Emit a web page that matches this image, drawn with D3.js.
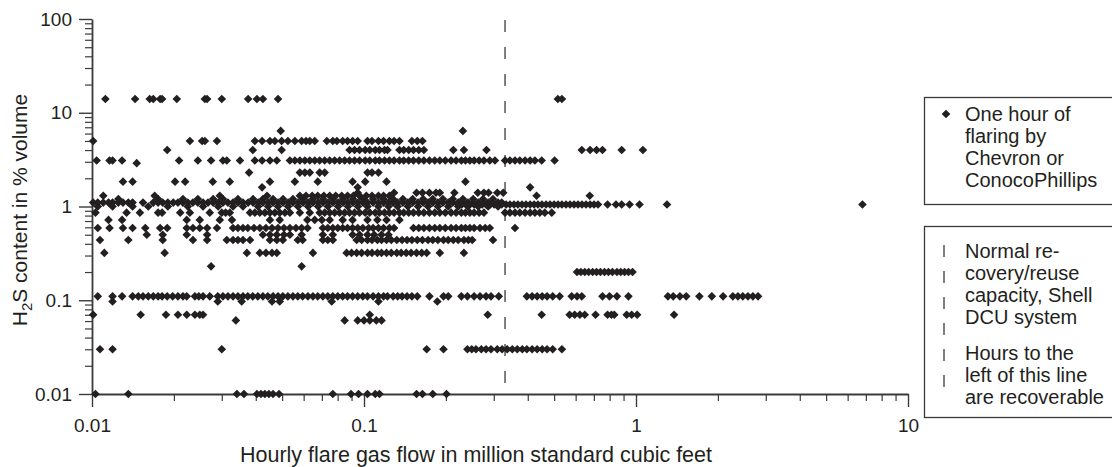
<!DOCTYPE html>
<html>
<head>
<meta charset="utf-8">
<script src="https://cdnjs.cloudflare.com/ajax/libs/d3/7.8.5/d3.min.js"></script>
<style>
body { margin: 0; background: #fff; }
svg { display: block; font-family: "Liberation Sans", Arial, Helvetica, sans-serif; }
.axis path, .axis line { stroke: #3a3a3a; }
.axis text { fill: #231f20; font-size: 19px; }
.legend text { fill: #231f20; font-size: 20px; }
</style>
</head>
<body>
<svg width="1112" height="467"></svg>
<script>
// hourly flare gas flow (million scf), grouped by H2S level (% volume)
const flow14 = [0.0112, 0.0144, 0.0163, 0.0168, 0.0178, 0.0181, 0.0205, 0.0260, 0.0265, 0.0300, 0.0375, 0.0404, 0.0425, 0.0483, 0.516, 0.534]
const flow6_4 = [0.0494, 0.231]
const flow5 = [0.0101, 0.0229, 0.0254, 0.0260, 0.0288, 0.0397, 0.0422, 0.0451, 0.0470, 0.0498, 0.0525, 0.0557, 0.0590, 0.0612, 0.0632, 0.0659, 0.0730, 0.0768, 0.0795, 0.0835, 0.0870, 0.0908, 0.0948, 0.103, 0.107, 0.113, 0.118, 0.124, 0.129, 0.135, 0.150, 0.157, 0.164]
const flow4 = [0.0189, 0.0390, 0.0498, 0.0885, 0.0923, 0.0963, 0.101, 0.105, 0.110, 0.114, 0.119, 0.122, 0.135, 0.140, 0.146, 0.152, 0.159, 0.166, 0.213, 0.233, 0.282, 0.632, 0.678, 0.716, 0.753, 0.886, 1.06]
const flow3_1 = [0.0104, 0.0116, 0.0119, 0.0129, 0.0209, 0.0245, 0.0274, 0.0303, 0.0313, 0.0350, 0.0397, 0.0422, 0.0451, 0.0478,
  0.0534, 0.0557, 0.0581, 0.0606, 0.0632, 0.0659, 0.0687, 0.0717, 0.0748, 0.0780, 0.0814, 0.0849, 0.0885, 0.0923, 0.0963, 0.101, 0.105, 0.110, 0.114, 0.119, 0.124,
  0.129, 0.135, 0.140, 0.146, 0.152, 0.159, 0.166, 0.174, 0.182, 0.190, 0.199, 0.209, 0.218, 0.228, 0.236, 0.245, 0.254, 0.265, 0.276, 0.290, 0.303,
  0.330, 0.344, 0.359, 0.374, 0.391, 0.408, 0.425, 0.450, 0.502]
const flow2_9 = [0.0146]
const flow2_3 = [0.0378, 0.0581, 0.0606, 0.0632, 0.0687, 0.0717, 0.103, 0.107, 0.113]
const flow1_84 = [0.0130, 0.0141, 0.0202, 0.0220, 0.0278, 0.0321, 0.0451, 0.0557, 0.0676, 0.0908, 0.101, 0.121, 0.236]
const flow1_6 = [0.0422, 0.0948, 0.408]
const flow1_4 = [0.0948, 0.129, 0.156, 0.164, 0.174, 0.184, 0.190, 0.215, 0.262, 0.276, 0.287, 0.309, 0.325]
const flow1_3 = [0.0110, 0.0170, 0.0295, 0.0440, 0.0581, 0.0612, 0.0645, 0.0676, 0.0712, 0.0748, 0.0787, 0.0828, 0.0870, 0.0914, 0.0963, 0.102, 0.107, 0.113, 0.118, 0.124, 0.431, 0.676]
const flow1_2 = [0.0125, 0.0175, 0.0216, 0.0245, 0.0279, 0.0303, 0.0344, 0.0391, 0.0425, 0.0463, 0.0504, 0.0548, 0.0597, 0.0649, 0.0707, 0.0769, 0.0837, 0.0911, 0.0992, 0.108, 0.118, 0.128, 0.139, 0.151, 0.165, 0.179, 0.195, 0.212, 0.231, 0.252, 0.274, 0.298]
const flow1_1 = [0.0101, 0.0105, 0.0110, 0.0115, 0.0119, 0.0125, 0.0130, 0.0136, 0.0141, 0.0154, 0.0168, 0.0175, 0.0182, 0.0190, 0.0199, 0.0207, 0.0216, 0.0225,
  0.0235, 0.0245, 0.0256, 0.0267, 0.0279, 0.0291, 0.0303, 0.0316, 0.0330, 0.0344, 0.0359, 0.0375, 0.0391, 0.0408, 0.0425, 0.0444, 0.0463, 0.0483, 0.0504, 0.0526,
  0.0548, 0.0572, 0.0597, 0.0623, 0.0649, 0.0678, 0.0707, 0.0737, 0.0769, 0.0803, 0.0837, 0.0873, 0.0911, 0.0950, 0.0992, 0.103, 0.108, 0.113, 0.118, 0.123,
  0.128, 0.133, 0.139, 0.145, 0.151, 0.158, 0.165, 0.172, 0.179, 0.187, 0.195, 0.204, 0.212, 0.222, 0.231, 0.241, 0.252, 0.263, 0.274, 0.286, 0.298, 0.311, 0.321]
const flow1_05 = [0.222, 0.229, 0.237, 0.245, 0.254, 0.263, 0.272, 0.281, 0.291, 0.301, 0.311, 0.321, 0.333, 0.344, 0.356, 0.368, 0.381, 0.394, 0.408, 0.422, 0.436,
  0.451, 0.467, 0.483, 0.500, 0.517, 0.534, 0.553, 0.572, 0.592, 0.612, 0.633, 0.655, 0.678, 0.701, 0.725, 0.786, 0.844, 0.886, 0.947, 1.03, 1.30, 6.8]
const flow1_0 = [0.0105, 0.0119, 0.0141, 0.0161, 0.0190, 0.0225, 0.0256, 0.0291, 0.0330, 0.0359, 0.0408, 0.0444, 0.0483, 0.0526, 0.0572, 0.0623, 0.0678, 0.0737,
  0.0803, 0.0873, 0.0950, 0.103, 0.113, 0.123, 0.133, 0.145, 0.158, 0.172, 0.187, 0.204, 0.222, 0.241, 0.263, 0.286, 0.311]
const flow0_86 = [0.0103, 0.0134, 0.0150, 0.0175, 0.0181, 0.0211, 0.0229, 0.0271, 0.0300, 0.0310, 0.0321, 0.0381, 0.0397, 0.0414, 0.0432, 0.0451, 0.0470, 0.0490,
  0.0512, 0.0534, 0.0581, 0.0632, 0.0687, 0.0717, 0.0748, 0.0780, 0.0814, 0.0849, 0.0885, 0.0923, 0.0963, 0.101, 0.105, 0.110, 0.114, 0.119, 0.124, 0.129,
  0.135, 0.140, 0.146, 0.152, 0.159, 0.166, 0.174, 0.182, 0.190, 0.199, 0.209, 0.218, 0.228, 0.236, 0.245, 0.254, 0.265, 0.276,
  0.330, 0.344, 0.359, 0.374, 0.391, 0.408, 0.425, 0.443, 0.462, 0.490]
const flow0_72 = [0.0115, 0.0129, 0.0223, 0.0249, 0.0295, 0.0327, 0.0451, 0.0490, 0.0619, 0.0659, 0.0700, 0.0748, 0.0835, 0.0908, 0.103, 0.112, 0.121, 0.135]
const flow0_59 = [0.0105, 0.0116, 0.0130, 0.0141, 0.0157, 0.0178, 0.0189, 0.0223, 0.0235, 0.0249, 0.0265, 0.0288, 0.0330, 0.0344, 0.0359, 0.0374, 0.0394, 0.0414,
  0.0436, 0.0459, 0.0483, 0.0508, 0.0534, 0.0562, 0.0590, 0.0620, 0.0706, 0.0736, 0.0768, 0.0801, 0.0835, 0.0870, 0.0908, 0.0948, 0.0990, 0.104, 0.108, 0.113,
  0.118, 0.124, 0.129, 0.152, 0.159, 0.166, 0.174, 0.182, 0.190, 0.199, 0.209, 0.218, 0.228, 0.236, 0.245, 0.254, 0.267, 0.279, 0.290, 0.359]
const flow0_5 = [0.0159, 0.0182, 0.0223, 0.0265, 0.0425, 0.0451, 0.0478, 0.0508, 0.0534, 0.0590, 0.0706, 0.0768, 0.0908, 0.0963, 0.103, 0.109, 0.116, 0.123]
const flow0_44 = [0.0107, 0.0136, 0.0182, 0.0235, 0.0265, 0.0313, 0.0330, 0.0344, 0.0359, 0.0381, 0.0451, 0.0478, 0.0503, 0.0571, 0.0595, 0.0706, 0.0736, 0.0768,
  0.0940, 0.0980, 0.103, 0.107, 0.112, 0.116, 0.121, 0.126, 0.132, 0.138, 0.144, 0.150, 0.157, 0.164, 0.172, 0.179, 0.187, 0.196, 0.204, 0.213, 0.222, 0.233,
  0.242, 0.250, 0.298]
const flow0_32 = [0.0111, 0.0185, 0.0371, 0.0414, 0.0436, 0.0459, 0.0478, 0.0649, 0.0863, 0.0900, 0.0940, 0.0980, 0.103, 0.107, 0.112, 0.116, 0.121, 0.126,
  0.132, 0.137, 0.143, 0.149, 0.156, 0.163, 0.170, 0.190, 0.233]
const flow0_23 = [0.0274, 0.0590]
const flow0_2 = [0.607, 0.627, 0.648, 0.670, 0.693, 0.716, 0.740, 0.766, 0.792, 0.819, 0.851, 0.879, 0.908, 0.938, 0.971]
const flow0_11 = [0.0105, 0.0119, 0.0129, 0.0141, 0.0148, 0.0154, 0.0161, 0.0168, 0.0175, 0.0181, 0.0189, 0.0198, 0.0207, 0.0216, 0.0223, 0.0239, 0.0247, 0.0256,
  0.0271, 0.0290, 0.0303, 0.0316, 0.0330, 0.0344, 0.0359, 0.0374, 0.0390, 0.0407, 0.0425, 0.0443, 0.0463, 0.0483, 0.0503, 0.0525, 0.0548, 0.0571, 0.0595,
  0.0622, 0.0649, 0.0676, 0.0706, 0.0736, 0.0768, 0.0801, 0.0835, 0.0870, 0.0908, 0.0948, 0.0990, 0.103, 0.108, 0.113, 0.118, 0.122, 0.128, 0.133, 0.138,
  0.144, 0.150, 0.157, 0.174, 0.196, 0.204, 0.228, 0.240, 0.254, 0.267, 0.281, 0.293, 0.313, 0.397, 0.415, 0.433, 0.452, 0.471, 0.494, 0.524, 0.580, 0.607,
  0.632, 0.753, 0.799, 0.851, 0.938, 1.31, 1.37, 1.45, 1.53, 1.71, 1.90, 2.09, 2.27, 2.37, 2.47, 2.58, 2.69, 2.81]
const flow0_097 = [0.0119, 0.0290, 0.0355, 0.0459, 0.0490, 0.0761, 0.113, 0.186]
const flow0_07 = [0.0101, 0.0151, 0.0187, 0.0207, 0.0223, 0.0239, 0.0249, 0.0256, 0.105, 0.285, 0.450, 0.570, 0.595, 0.622, 0.648, 0.710, 0.786, 0.812, 0.832,
  0.924, 0.964, 1.01, 1.38]
const flow0_061 = [0.0338, 0.0849, 0.0948, 0.100, 0.105, 0.111, 0.116]
const flow0_03 = [0.0107, 0.0119, 0.0300, 0.170, 0.196, 0.240, 0.249, 0.258, 0.270, 0.281, 0.293, 0.309, 0.322, 0.336, 0.351, 0.366, 0.382, 0.397, 0.415, 0.433,
  0.452, 0.471, 0.494, 0.534]
const flow0_01 = [0.0103, 0.0136, 0.0341, 0.0362, 0.0404, 0.0418, 0.0432, 0.0447, 0.0463, 0.0487, 0.0768, 0.0896, 0.0955, 0.103, 0.110, 0.114, 0.156, 0.164, 0.179, 0.201]

const h2sLevels = [14, 6.4, 5, 4, 3.1, 2.9, 2.3, 1.84, 1.6, 1.4, 1.3, 1.2, 1.1, 1.05, 1.0, 0.86, 0.72, 0.59, 0.5, 0.44, 0.32, 0.23, 0.2, 0.11, 0.097, 0.07, 0.061, 0.03, 0.01]
const flowLists = [flow14, flow6_4, flow5, flow4, flow3_1, flow2_9, flow2_3, flow1_84, flow1_6, flow1_4, flow1_3, flow1_2, flow1_1, flow1_05, flow1_0,
  flow0_86, flow0_72, flow0_59, flow0_5, flow0_44, flow0_32, flow0_23, flow0_2, flow0_11, flow0_097, flow0_07, flow0_061, flow0_03, flow0_01]

// Shell DCU normal recovery capacity (million scf per hour)
const recoveryCapacity = 0.33

const xTicks = [0.01, 0.1, 1, 10]
const yTicks = [0.01, 0.1, 1, 10, 100]

const legendPoints = ['One hour of', 'flaring by', 'Chevron or', 'ConocoPhillips']
const legendLine1 = ['Normal re-', 'covery/reuse', 'capacity, Shell', 'DCU system']
const legendLine2 = ['Hours to the', 'left of this line', 'are recoverable']

// flatten into points
const points = []
h2sLevels.forEach((h, i) => {
  flowLists[i].forEach(f => points.push({ flow: f, h2s: h }))
})

const svg = d3.select('svg')
const ink = '#231f20'

const x = d3.scaleLog().domain([0.01, 10]).range([92, 908])
const y = d3.scaleLog().domain([0.01, 100]).range([394, 19])

// minor ticks 2..9 of each decade
const minor = (lo, hi) => {
  const out = []
  for (let p = lo; p < hi; p++) {
    for (let k = 2; k <= 9; k++) out.push(k * Math.pow(10, p))
  }
  return out
}
const fmt = d => String(+d.toPrecision(3))

// x axis
svg.append('g')
  .attr('class', 'axis')
  .attr('transform', 'translate(0,394)')
  .call(d3.axisBottom(x).tickValues(minor(-2, 1)).tickSize(7).tickSizeOuter(0).tickFormat(''))
  .call(g => g.selectAll('line').attr('stroke-width', 1.2))
  .call(g => g.select('.domain').remove())

svg.append('g')
  .attr('class', 'axis')
  .attr('transform', 'translate(0,394)')
  .call(d3.axisBottom(x).tickValues(xTicks).tickSize(13).tickSizeOuter(0).tickPadding(12).tickFormat(fmt))
  .call(g => g.selectAll('line').attr('stroke-width', 1.4))
  .call(g => g.select('.domain').attr('stroke-width', 1.8))

// y axis
svg.append('g')
  .attr('class', 'axis')
  .attr('transform', 'translate(92,0)')
  .call(d3.axisLeft(y).tickValues(minor(-2, 2)).tickSize(7).tickSizeOuter(0).tickFormat(''))
  .call(g => g.selectAll('line').attr('stroke-width', 1.2))
  .call(g => g.select('.domain').remove())

svg.append('g')
  .attr('class', 'axis')
  .attr('transform', 'translate(92,0)')
  .call(d3.axisLeft(y).tickValues(yTicks).tickSize(13).tickSizeOuter(0).tickPadding(7).tickFormat(fmt))
  .call(g => g.selectAll('line').attr('stroke-width', 1.4))
  .call(g => g.select('.domain').attr('stroke-width', 1.8))

// recovery capacity line
svg.append('line')
  .attr('x1', x(recoveryCapacity))
  .attr('x2', x(recoveryCapacity))
  .attr('y1', y(100) + 1)
  .attr('y2', y(0.01) - 6)
  .attr('stroke', '#3a3a3a')
  .attr('stroke-width', 1.3)
  .attr('stroke-dasharray', '12,15')

// diamonds
const diamond = 'M0,-4.3L4.3,0L0,4.3L-4.3,0Z'
svg.append('g')
  .selectAll('path')
  .data(points)
  .enter()
  .append('path')
  .attr('d', diamond)
  .attr('transform', d => `translate(${x(d.flow)},${y(d.h2s)})`)
  .attr('fill', ink)

// axis titles
svg.append('text')
  .attr('x', 476)
  .attr('y', 462)
  .attr('text-anchor', 'middle')
  .attr('font-size', 21.5)
  .attr('fill', ink)
  .text('Hourly flare gas flow in million standard cubic feet')

const yTitle = svg.append('text')
  .attr('transform', 'translate(27,210) rotate(-90)')
  .attr('text-anchor', 'middle')
  .attr('font-size', 21)
  .attr('fill', ink)
yTitle.append('tspan').text('H')
yTitle.append('tspan').attr('font-size', 15).attr('dy', 5).text('2')
yTitle.append('tspan').attr('dy', -5).text('S content in % volume')

// legends
const legend = svg.append('g').attr('class', 'legend')

legend.append('rect')
  .attr('x', 924.5).attr('y', 97.5).attr('width', 200).attr('height', 107)
  .attr('fill', '#fff').attr('stroke', '#3a3a3a').attr('stroke-width', 1.3)

legend.append('path')
  .attr('d', diamond)
  .attr('transform', 'translate(946,114)')
  .attr('fill', ink)

legend.selectAll('text.pts')
  .data(legendPoints)
  .enter()
  .append('text')
  .attr('class', 'pts')
  .attr('x', 965)
  .attr('y', (d, i) => 121 + i * 22)
  .text(d => d)

legend.append('rect')
  .attr('x', 924.5).attr('y', 226.5).attr('width', 200).attr('height', 191)
  .attr('fill', '#fff').attr('stroke', '#3a3a3a').attr('stroke-width', 1.3)

legend.append('line')
  .attr('x1', 944).attr('x2', 944)
  .attr('y1', 245).attr('y2', 394)
  .attr('stroke', '#3a3a3a')
  .attr('stroke-width', 1.3)
  .attr('stroke-dasharray', '12,14')

legend.selectAll('text.l1')
  .data(legendLine1)
  .enter()
  .append('text')
  .attr('class', 'l1')
  .attr('x', 965)
  .attr('y', (d, i) => 258 + i * 22)
  .text(d => d)

legend.selectAll('text.l2')
  .data(legendLine2)
  .enter()
  .append('text')
  .attr('class', 'l2')
  .attr('x', 965)
  .attr('y', (d, i) => 360 + i * 22)
  .text(d => d)
</script>
</body>
</html>
